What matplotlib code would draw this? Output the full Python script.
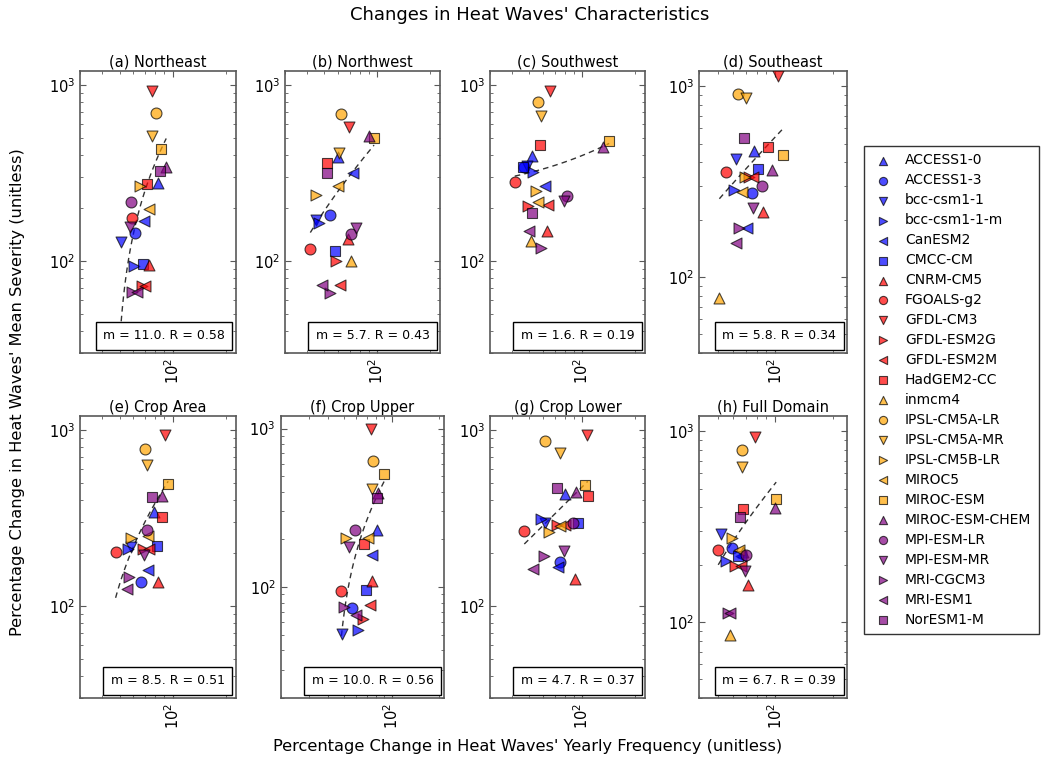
import numpy as np
import matplotlib
matplotlib.use('Agg')
import matplotlib.pyplot as plt
from matplotlib.ticker import NullFormatter
from matplotlib.offsetbox import AnchoredText

nan = np.nan

models = ['ACCESS1-0', 'ACCESS1-3', 'bcc-csm1-1', 'bcc-csm1-1-m', 'CanESM2', 'CMCC-CM',
          'CNRM-CM5', 'FGOALS-g2', 'GFDL-CM3', 'GFDL-ESM2G', 'GFDL-ESM2M', 'HadGEM2-CC',
          'inmcm4', 'IPSL-CM5A-LR', 'IPSL-CM5A-MR', 'IPSL-CM5B-LR', 'MIROC5', 'MIROC-ESM',
          'MIROC-ESM-CHEM', 'MPI-ESM-LR', 'MPI-ESM-MR', 'MRI-CGCM3', 'MRI-ESM1', 'NorESM1-M']
colors = ['blue'] * 6 + ['red'] * 6 + ['orange'] * 6 + ['purple'] * 6
markers = ['^', 'o', 'v', '>', '<', 's'] * 4

titles = ['(a) Northeast', '(b) Northwest', '(c) Southwest', '(d) Southeast',
          '(e) Crop Area', '(f) Crop Upper', '(g) Crop Lower', '(h) Full Domain']
slopes = [11.0, 5.7, 1.6, 5.8, 8.5, 10.0, 4.7, 6.7]
corrs = [0.58, 0.43, 0.19, 0.34, 0.51, 0.56, 0.37, 0.39]

# % change in yearly frequency (x) and mean severity (y), model order as above
freq_ne = [83.0, 61.5, 51.1, 60.2, 69.2, 68.0, 73.5, 58.9, 76.4, 67.1, 69.4, 71.6,
           nan, 80.9, 76.4, 65.7, 73.8, 85.9, 92.1, 57.9, 57.6, 58.9, 62.9, 85.2]
sev_ne = [278, 144, 128, 93.3, 168, 95.7, 94.5, 176, 928, 71.7, 71.7, 272,
          nan, 696, 514, 267, 197, 430, 343, 215, 155, 66.3, 66.3, 325]

freq_nw = [60.0, 53.8, 45.2, 46.6, 72.9, 57.4, 68.0, 41.8, 68.9, 58.6, 61.8, 51.9,
           71.3, 62.3, 60.7, 45.2, 59.7, 96.2, 90.5, 71.3, 76.1, 54.3, 48.7, 52.3]
sev_nw = [392, 183, 172, 164, 317, 114, 134, 117, 580, 100, 72.8, 361,
          99.6, 685, 410, 236, 266, 500, 516, 142, 154, 65.8, 72.8, 318]

freq_sw = [52.2, 47.0, 48.7, 52.6, 61.5, 46.2, 63.1, 41.5, 66.2, 49.3, 64.0, 57.9,
           51.1, 56.4, 58.6, 54.5, 56.2, 142.7, 132.0, 82.6, 78.8, 58.6, 50.0, 52.2]
sev_sw = [394, 342, 346, 321, 267, 340, 148, 282, 924, 206, 209, 455,
          129, 800, 666, 250, 215, 482, 442, 234, 220, 119, 148, 188]

freq_se = [77.1, 75.5, 62.6, 60.6, 71.1, 80.9, 85.9, 55.5, 102.8, 72.6, 76.2, 91.2,
           51.0, 63.6, 70.6, 69.2, 67.0, 109.6, 96.1, 85.2, 76.2, 64.4, 62.3, 68.4]
sev_se = [458, 275, 414, 286, 180, 370, 220, 357, 1127, 333, 333, 481,
          77.7, 912, 862, 333, 278, 435, 363, 298, 229, 180, 150.5, 533]

freq_ca = [78.6, 66.0, 58.4, 55.9, 72.6, 82.1, 82.8, 47.5, 90.4, 68.1, 73.6, 86.6,
           nan, 70.2, 71.7, 57.9, 72.6, 94.5, 87.7, 72.0, 68.9, 56.4, 55.1, 76.9]
sev_ca = [341, 136, 215, 210.5, 160.5, 218, 137.6, 202, 932, 210.5, 210.5, 320,
          nan, 783, 629, 243, 251, 496, 420, 269, 195, 147, 124.5, 417]

freq_cu = [81.2, 55.9, 49.0, 61.6, 74.8, 68.9, 74.8, 48.3, 73.7, 66.2, 73.0, 67.2,
           nan, 76.6, 74.8, 51.5, 71.2, 89.9, 82.4, 58.7, 54.0, 50.0, 59.5, 80.4]
sev_cu = [229, 74.0, 51.0, 53.5, 158.5, 95.7, 109, 94.3, 990, 63.1, 77.0, 188,
          nan, 625, 414, 203, 205, 520, 394, 228, 180, 75.1, 66.3, 367]

freq_cl = [80.4, 75.0, 61.9, 58.7, 72.7, 94.5, 91.6, 47.0, 106.8, 71.8, 80.4, 107.7,
           nan, 61.9, 75.0, 64.7, 75.0, 103.5, 92.5, 88.5, 79.4, 60.5, 52.4, 71.8]
sev_cl = [435, 178, 297, 313, 165.6, 295, 142, 265, 936, 289, 289, 421,
          nan, 865, 736, 262, 284, 489, 444, 295, 204, 193, 162, 468]

freq_fd = [67.6, 59.2, 52.0, 55.2, 66.2, 63.6, 71.8, 50.3, 78.5, 61.6, 66.2, 67.6,
           58.2, 67.0, 67.0, 59.2, 64.9, 101.2, 99.2, 70.4, 69.5, 56.8, 58.2, 65.4]
sev_fd = [231.7, 243, 289, 209, 222, 222.6, 156.6, 239, 934, 195.5, 195.5, 392,
          85.1, 794, 649, 274.6, 239, 439, 396.6, 224, 185.6, 112, 112, 354]

freqs = [freq_ne, freq_nw, freq_sw, freq_se, freq_ca, freq_cu, freq_cl, freq_fd]
sevs = [sev_ne, sev_nw, sev_sw, sev_se, sev_ca, sev_cu, sev_cl, sev_fd]

# axis limits per panel (x, y)
xlims = [(30, 228), (30, 228), (30, 228), (40, 237), (30, 228), (20, 215), (30, 228), (40, 237)]
ylims = [(30, 1200), (30, 1200), (30, 1200), (40, 1200), (30, 1200), (20, 1200), (30, 1200), (40, 1200)]

plt.rcParams['xtick.direction'] = 'in'
plt.rcParams['ytick.direction'] = 'in'
plt.rcParams['xtick.top'] = True
plt.rcParams['ytick.right'] = True
plt.rcParams['xtick.major.size'] = 4
plt.rcParams['ytick.major.size'] = 4
plt.rcParams['xtick.minor.size'] = 2
plt.rcParams['ytick.minor.size'] = 2
plt.rcParams['xtick.color'] = '0.35'
plt.rcParams['ytick.color'] = '0.35'
plt.rcParams['xtick.labelcolor'] = 'k'
plt.rcParams['ytick.labelcolor'] = 'k'

W, H = 1042, 761
fig = plt.figure(figsize=(W / 100, H / 100), dpi=100)

col_centers = [158, 362.5, 567.5, 773]
row_tops = [71, 416]
ax_h = 282

for i in range(8):
    xl, yl = xlims[i], ylims[i]
    # equal decades on both axes
    ax_w = ax_h * np.log10(xl[1] / xl[0]) / np.log10(yl[1] / yl[0])
    cx = col_centers[i % 4]
    top = row_tops[i // 4]
    ax = fig.add_axes([(cx - ax_w / 2) / W, (H - top - ax_h) / H, ax_w / W, ax_h / H])
    x = np.array(freqs[i], dtype=float)
    y = np.array(sevs[i], dtype=float)
    for k in range(len(models)):
        ax.scatter(x[k], y[k], s=62, marker=markers[k], c=colors[k], alpha=0.7,
                   edgecolors='k', linewidths=0.8, label=models[k], zorder=3)
    # regression line through the mean
    ok = ~np.isnan(x)
    xs = np.linspace(x[ok].min(), x[ok].max(), 60)
    ys = slopes[i] * (xs - x[ok].mean()) + y[ok].mean()
    ax.plot(xs, ys, color='k', ls=(0, (4, 3)), lw=1, alpha=0.8, zorder=2)
    ax.set_xscale('log')
    ax.set_yscale('log')
    ax.set_xlim(xl)
    ax.set_ylim(yl)
    ax.xaxis.set_minor_formatter(NullFormatter())
    ax.yaxis.set_minor_formatter(NullFormatter())
    ax.set_title(titles[i], fontsize=10.5, pad=3)
    ax.tick_params(axis='both', which='major', labelsize=10.5)
    ax.tick_params(axis='x', labelrotation=90)
    for sp in ax.spines.values():
        sp.set_color('0.35')
        sp.set_linewidth(1.2)
    at = AnchoredText('m = %.1f. R = %.2f' % (slopes[i], corrs[i]), loc='lower right',
                      prop=dict(size=9), pad=0.3, borderpad=0.55)
    at.patch.set_boxstyle('square')
    ax.add_artist(at)
    if i == 0:
        handles, labels = ax.get_legend_handles_labels()

fig.legend(handles, labels, loc='center left', bbox_to_anchor=(864 / W, 1 - 390 / H),
           fontsize=10, labelspacing=0.43, fancybox=False, edgecolor='k',
           scatterpoints=1, markerscale=0.75, handletextpad=0.8, borderpad=0.55,
           handlelength=1.6, borderaxespad=0)

fig.text(0.508, 1 - 15 / H, "Changes in Heat Waves' Characteristics", ha='center', va='center', fontsize=13)
fig.text(18 / W, 1 - 392 / H, "Percentage Change in Heat Waves' Mean Severity (unitless)",
         rotation=90, ha='center', va='center', fontsize=11.7)
fig.text(528 / W, 1 - 746 / H, "Percentage Change in Heat Waves' Yearly Frequency (unitless)",
         ha='center', va='center', fontsize=11.7)

fig.savefig('out.png', dpi=100)
